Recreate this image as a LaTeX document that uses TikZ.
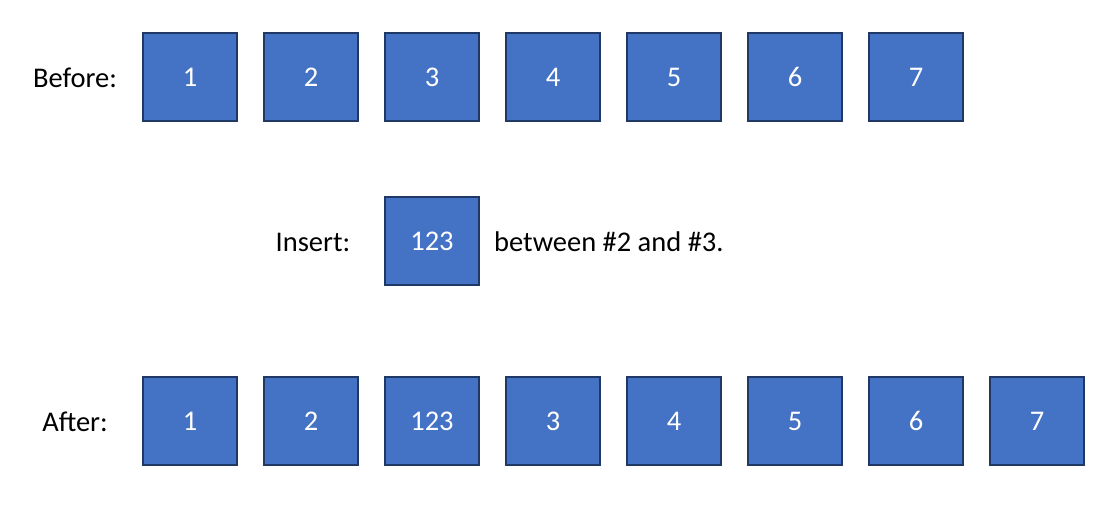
\documentclass[tikz,border=0pt]{standalone}
\usepackage{fontspec}
\setmainfont{Carlito}
\definecolor{boxfill}{HTML}{4472C4}
\definecolor{boxline}{HTML}{1F3864}
\tikzset{
  cell/.style={draw=boxline,line width=1.5pt,fill=boxfill,text=white,minimum width=94pt,minimum height=88pt,inner sep=0pt},
  lbl/.style={inner sep=0pt}
}
\begin{document}
\begin{tikzpicture}[x=1pt,y=-1pt,font=\fontsize{28.5}{32}\selectfont]
\useasboundingbox (0,0) rectangle (1120,515);
\node[lbl] (before) at (75,78) {Before:};
\node[cell] (b1) at (190,77) {1};
\node[cell] (b2) at (311,77) {2};
\node[cell] (b3) at (432,77) {3};
\node[cell] (b4) at (553,77) {4};
\node[cell] (b5) at (674,77) {5};
\node[cell] (b6) at (795,77) {6};
\node[cell] (b7) at (916,77) {7};
\node[lbl] (insert) at (313,242) {Insert:};
\node[cell] (new) at (432,241) {123};
\node[lbl,anchor=west] (where) at (494,242) {between \#2 and \#3.};
\node[lbl] (after) at (75,422) {After:};
\node[cell] (a1) at (190,421) {1};
\node[cell] (a2) at (311,421) {2};
\node[cell] (a3) at (432,421) {123};
\node[cell] (a4) at (553,421) {3};
\node[cell] (a5) at (674,421) {4};
\node[cell] (a6) at (795,421) {5};
\node[cell] (a7) at (916,421) {6};
\node[cell] (a8) at (1037,421) {7};
\end{tikzpicture}
\end{document}
